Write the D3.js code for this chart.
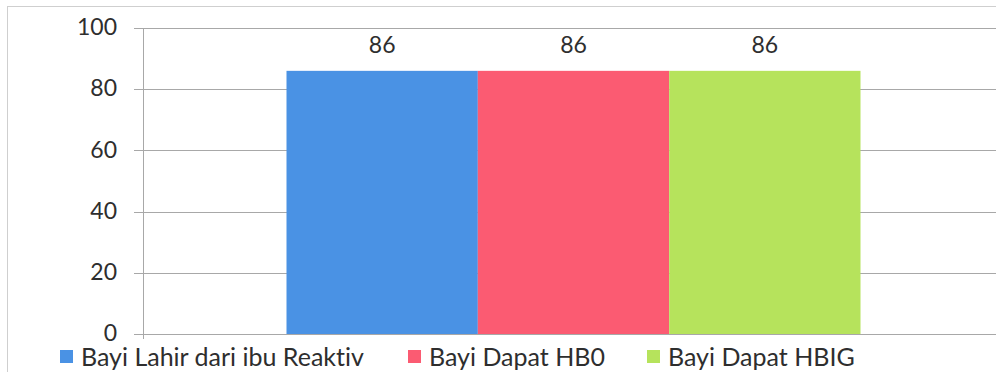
<!DOCTYPE html>
<html>
<head>
<meta charset="utf-8">
<script src="https://cdn.jsdelivr.net/npm/d3@7"></script>
<style>
  body { margin: 0; background: #fff; }
  text { font-family: Lato, "Open Sans", sans-serif; fill: #2e2e2e; font-variant-ligatures: none; }
</style>
</head>
<body>
<div id="chart"></div>
<script>
// data
var categories = [""];
var seriesNames = ["Bayi Lahir dari ibu Reaktiv", "Bayi Dapat HB0", "Bayi Dapat HBIG"];
var seriesValues = [86, 86, 86];
var yTicks = [0, 20, 40, 60, 80, 100];
var colors = ["#4a92e4", "#fb5b72", "#b6e35c"];

var width = 996, height = 372;
var plotLeft = 143, plotRight = 1004, plotTop = 28, plotBottom = 334;

var svg = d3.select("#chart").append("svg")
  .attr("width", width)
  .attr("height", height);

// outer frame
svg.append("rect")
  .attr("x", 7.5).attr("y", 6.5)
  .attr("width", 1000).attr("height", 370)
  .style("fill", "none")
  .style("stroke", "#cfcfcf");

var y = d3.scaleLinear().domain([0, 100]).range([plotBottom, plotTop]);
var x0 = d3.scaleBand().domain(categories).range([plotLeft, plotRight]).paddingOuter(0.25);
var x1 = d3.scaleBand().domain(seriesNames).range([0, x0.bandwidth()]);

// gridlines
svg.selectAll(".grid")
  .data(yTicks)
  .enter().append("line")
  .attr("class", "grid")
  .attr("x1", plotLeft - 9).attr("x2", width)
  .attr("y1", function(d) { return Math.round(y(d)) + 0.5; })
  .attr("y2", function(d) { return Math.round(y(d)) + 0.5; })
  .style("stroke", "#a8a8a8")
  .style("stroke-width", 1);

// y axis line
svg.append("line")
  .attr("x1", plotLeft + 0.5).attr("x2", plotLeft + 0.5)
  .attr("y1", y(100)).attr("y2", y(0) + 5)
  .style("stroke", "#a8a8a8");

// tick labels
svg.selectAll(".ytick")
  .data(yTicks)
  .enter().append("text")
  .attr("class", "ytick")
  .attr("x", 117)
  .attr("y", function(d) { return y(d) - 1; })
  .attr("dy", "0.36em")
  .attr("text-anchor", "end")
  .style("font-size", "23px")
  .text(function(d) { return d; });

// bars
var group = svg.selectAll(".cat")
  .data(categories)
  .enter().append("g")
  .attr("class", "cat")
  .attr("transform", function(d) { return "translate(" + x0(d) + ",0)"; });

group.selectAll("rect")
  .data(seriesNames.map(function(n, i) { return { name: n, value: seriesValues[i], i: i }; }))
  .enter().append("rect")
  .attr("x", function(d) { return x1(d.name); })
  .attr("y", function(d) { return y(d.value); })
  .attr("width", x1.bandwidth())
  .attr("height", function(d) { return y(0) - y(d.value); })
  .style("fill", function(d) { return colors[d.i]; });

group.selectAll(".val")
  .data(seriesNames.map(function(n, i) { return { name: n, value: seriesValues[i] }; }))
  .enter().append("text")
  .attr("class", "val")
  .attr("x", function(d) { return x1(d.name) + x1.bandwidth() / 2; })
  .attr("y", function(d) { return y(d.value) - 18; })
  .attr("text-anchor", "middle")
  .style("font-size", "23px")
  .text(function(d) { return d.value; });

// legend
var legendX = [60, 408, 647];
var legend = svg.selectAll(".legend")
  .data(seriesNames)
  .enter().append("g")
  .attr("class", "legend")
  .attr("transform", function(d, i) { return "translate(" + legendX[i] + ",350)"; });

legend.append("rect")
  .attr("width", 13).attr("height", 13)
  .style("fill", function(d, i) { return colors[i]; });

legend.append("text")
  .attr("x", 21)
  .attr("y", 7)
  .attr("dy", "0.36em")
  .style("font-size", "25px")
  .text(function(d) { return d; });
</script>
</body>
</html>
